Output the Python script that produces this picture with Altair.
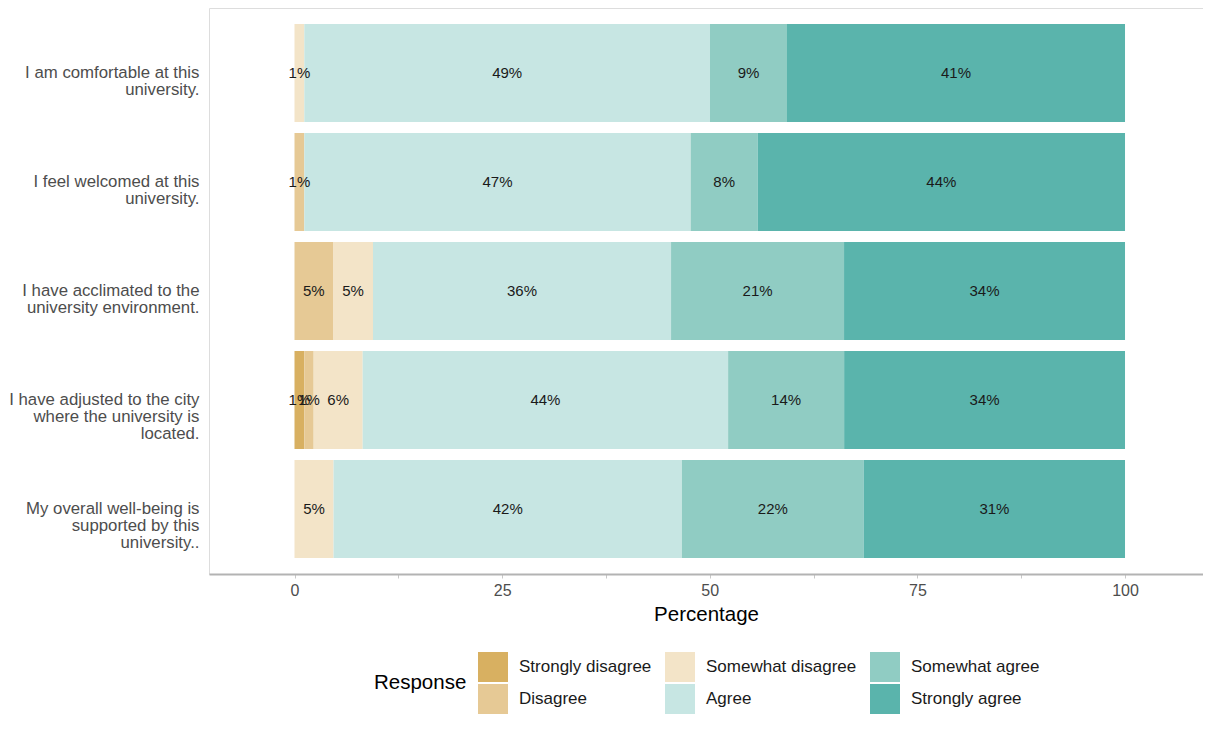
import altair as alt
import pandas as pd

# Questions (wrapped with "|" as line breaks), top to bottom
questions = [
    "I am comfortable at this|university.",
    "I feel welcomed at this|university.",
    "I have acclimated to the|university environment.",
    "I have adjusted to the city|where the university is|located.",
    "My overall well-being is|supported by this|university..",
]

responses = ["Strongly disagree", "Disagree", "Somewhat disagree",
             "Agree", "Somewhat agree", "Strongly agree"]

# Percentages per response, one value per question (same order as questions)
strongly_disagree = [0.0, 0.0, 0.0, 1.18, 0.0]
disagree = [0.0, 1.18, 4.64, 1.13, 0.0]
somewhat_disagree = [1.18, 0.0, 4.81, 5.90, 4.70]
agree = [48.85, 46.52, 35.89, 44.00, 41.95]
somewhat_agree = [9.27, 8.07, 20.83, 13.97, 21.90]
strongly_agree = [40.70, 44.23, 33.83, 33.82, 31.45]

series = [strongly_disagree, disagree, somewhat_disagree,
          agree, somewhat_agree, strongly_agree]

colors = ["#d8b061", "#e6c995", "#f3e4c8", "#c7e6e3", "#90ccc3", "#5ab4ac"]

# legend is filled row-wise in 3 columns; reorder so it reads column-wise
legend_order = [0, 2, 4, 1, 3, 5]
legend_domain = [responses[i] for i in legend_order]
legend_range = [colors[i] for i in legend_order]

rows = []
for ri, (resp, vals) in enumerate(zip(responses, series)):
    for q, v in zip(questions, vals):
        if v > 0:
            rows.append({"question": q, "response": resp, "order": ri, "pct": v})
df = pd.DataFrame(rows)

FONT = "Liberation Sans"

base = alt.Chart(df).transform_stack(
    stack="pct", groupby=["question"], sort=[alt.SortField("order")], as_=["x0", "x1"]
).transform_calculate(
    mid="(datum.x0 + datum.x1) / 2",
    label="format(datum.pct / 100, '.0%')",
)

xscale = alt.Scale(domain=[-10.295, 109.39], nice=False, zero=False)
yscale = alt.Scale(paddingInner=0.1, paddingOuter=0.146)

yenc = alt.Y(
    "question:N", sort=questions, scale=yscale,
    axis=alt.Axis(
        title=None, ticks=False, domain=False, grid=False,
        labelExpr="split(datum.label, '|')",
        labelFontSize=16.8, labelColor="#4d4d4d", labelPadding=10,
        labelLineHeight=17, labelLimit=0, labelFont=FONT,
    ),
)

bars = base.mark_bar().encode(
    y=yenc,
    x=alt.X(
        "x0:Q", scale=xscale,
        axis=alt.Axis(
            title="Percentage", values=[0, 12.5, 25, 37.5, 50, 62.5, 75, 87.5, 100],
            labelExpr="datum.value % 25 == 0 ? datum.label : ''",
            grid=False, labelOverlap=False, labelFlush=False,
            labelFontSize=16, labelColor="#4d4d4d", labelPadding=4,
            tickSize=4, tickColor="#c8c8c8", tickWidth=1,
            domainColor="#b3b3b3", domainWidth=2,
            titleFontSize=20.5, titleFontWeight="normal", titleColor="#000000",
            titlePadding=6, labelFont=FONT, titleFont=FONT,
        ),
    ),
    x2="x1:Q",
    color=alt.Color(
        "response:N",
        scale=alt.Scale(domain=legend_domain, range=legend_range),
        legend=alt.Legend(
            title="Response", orient="none", legendX=165, legendY=644,
            direction="horizontal", columns=3,
            titleOrient="left", titleAnchor="middle", titleBaseline="middle",
            titleFontSize=20.5, titleFontWeight="normal", titleColor="#000000",
            titlePadding=11, titleFont=FONT,
            labelFontSize=17, labelColor="#1a1a1a", labelFont=FONT,
            symbolType="square", symbolSize=900, symbolStrokeWidth=0,
            symbolOpacity=1, labelOffset=11, columnPadding=13, rowPadding=2,
            padding=0,
        ),
    ),
)

text = base.mark_text(fontSize=15, color="#1a1a1a", font=FONT).encode(
    y=alt.Y("question:N", sort=questions, scale=yscale),
    x=alt.X("mid:Q", scale=xscale),
    text="label:N",
)

chart = alt.layer(bars, text).properties(
    width=994, height=566,
    padding={"left": 201, "top": 0, "right": 0, "bottom": 140},
    autosize=alt.AutoSizeParams(type="none"),
).configure_view(
    stroke="#cccccc", strokeWidth=1.3
).configure(font=FONT)

chart.save("out.html", embed_options={"renderer": "svg", "actions": False})
